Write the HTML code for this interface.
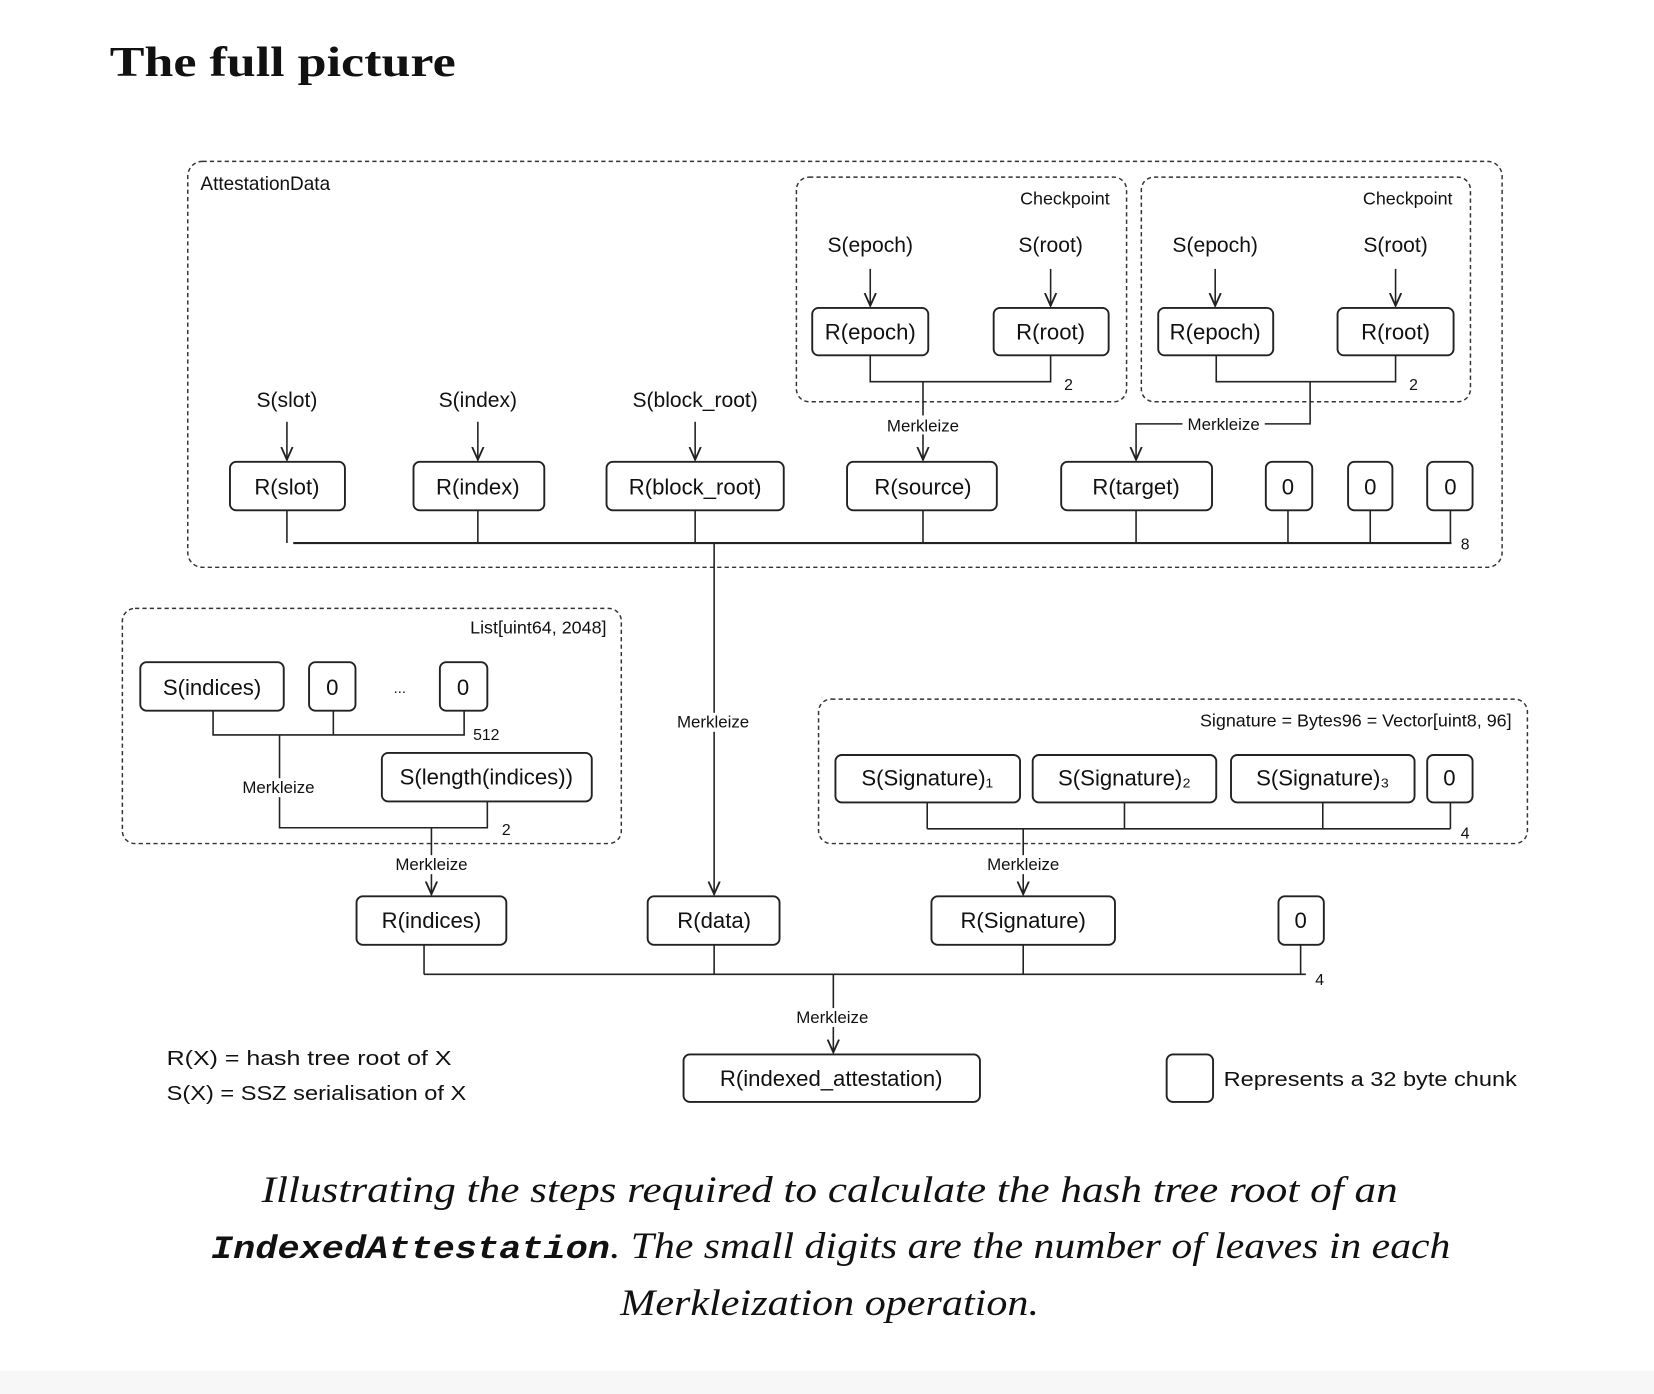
<!DOCTYPE html>
<html><head><meta charset="utf-8"><style>
html,body{margin:0;padding:0;background:#fff;}
svg{display:block}
.h{font-family:"Liberation Sans Narrow","Liberation Sans",sans-serif;fill:#111}
.b{fill:#fff;stroke:#222;stroke-width:1.8}
.l{stroke:#222;stroke-width:1.5;fill:none}
.d{stroke:#333;stroke-width:1.4;fill:none;stroke-dasharray:4 3}
</style></head><body>
<svg width="1654" height="1394" viewBox="0 0 1568 1322" preserveAspectRatio="none" xmlns="http://www.w3.org/2000/svg">
<defs><marker id="a" viewBox="0 0 10 10" refX="9" refY="5" markerWidth="9" markerHeight="9" orient="auto"><path d="M0,1 L9,5 L0,9" fill="none" stroke="#222" stroke-width="1.3"/></marker></defs>
<rect x="0" y="1300" width="1568" height="22" fill="#f7f7f7"/>
<text x="104" y="72" font-family="Liberation Serif,serif" font-weight="bold" font-size="40" fill="#111" textLength="328" lengthAdjust="spacingAndGlyphs">The full picture</text>

<!-- containers -->
<rect class="d" x="178" y="153" width="1246" height="385" rx="14"/>
<text class="h" x="190" y="180" font-size="18">AttestationData</text>
<rect class="d" x="755" y="168" width="313" height="213" rx="12"/>
<text class="h" x="1052" y="194" font-size="17" text-anchor="end">Checkpoint</text>
<rect class="d" x="1082" y="168" width="312" height="213" rx="12"/>
<text class="h" x="1377" y="194" font-size="17" text-anchor="end">Checkpoint</text>
<rect class="d" x="116" y="577" width="473" height="223" rx="12"/>
<text class="h" x="575" y="601" font-size="17" text-anchor="end">List[uint64, 2048]</text>
<rect class="d" x="776" y="663" width="672" height="137" rx="12"/>
<text class="h" x="1433" y="689" font-size="17" text-anchor="end">Signature = Bytes96 = Vector[uint8, 96]</text>

<g class="h" font-size="20" text-anchor="middle">
<text x="825" y="239">S(epoch)</text><text x="996" y="239">S(root)</text>
<text x="1152" y="239">S(epoch)</text><text x="1323" y="239">S(root)</text>
<text x="272" y="386">S(slot)</text><text x="453" y="386">S(index)</text><text x="659" y="386">S(block_root)</text>
</g>

<g class="l">
<line x1="825" y1="255" x2="825" y2="290" marker-end="url(#a)"/>
<line x1="996" y1="255" x2="996" y2="290" marker-end="url(#a)"/>
<line x1="1152" y1="255" x2="1152" y2="290" marker-end="url(#a)"/>
<line x1="1323" y1="255" x2="1323" y2="290" marker-end="url(#a)"/>
<line x1="272" y1="400" x2="272" y2="436" marker-end="url(#a)"/>
<line x1="453" y1="400" x2="453" y2="436" marker-end="url(#a)"/>
<line x1="659" y1="400" x2="659" y2="436" marker-end="url(#a)"/>
<polyline points="825,337 825,362 996,362 996,337"/>
<line x1="875" y1="362" x2="875" y2="436" marker-end="url(#a)"/>
<polyline points="1153,337 1153,362 1323,362 1323,337"/>
<polyline points="1242,362 1242,402 1077,402 1077,436" marker-end="url(#a)"/>
<line x1="278" y1="515" x2="1376" y2="515" stroke-width="2"/>
<line x1="272" y1="484" x2="272" y2="515"/><line x1="453" y1="484" x2="453" y2="515"/>
<line x1="659" y1="484" x2="659" y2="515"/><line x1="875" y1="484" x2="875" y2="515"/>
<line x1="1077" y1="484" x2="1077" y2="515"/><line x1="1221" y1="484" x2="1221" y2="515"/>
<line x1="1299" y1="484" x2="1299" y2="515"/><line x1="1375" y1="484" x2="1375" y2="515"/>
<line x1="677" y1="515" x2="677" y2="848" marker-end="url(#a)"/>
<polyline points="202,674 202,697 440,697 440,674"/><line x1="316" y1="674" x2="316" y2="697"/>
<polyline points="265,697 265,785 462,785 462,760"/>
<line x1="409" y1="785" x2="409" y2="848" marker-end="url(#a)"/>
<line x1="879" y1="761" x2="879" y2="786"/><line x1="1066" y1="761" x2="1066" y2="786"/>
<line x1="1254" y1="761" x2="1254" y2="786"/><line x1="1375" y1="761" x2="1375" y2="786"/>
<line x1="879" y1="786" x2="1375" y2="786"/>
<line x1="970" y1="786" x2="970" y2="848" marker-end="url(#a)"/>
<line x1="402" y1="924" x2="1238" y2="924"/>
<line x1="402" y1="896" x2="402" y2="924"/><line x1="677" y1="896" x2="677" y2="924"/>
<line x1="970" y1="896" x2="970" y2="924"/><line x1="1233" y1="896" x2="1233" y2="924"/>
<line x1="790" y1="924" x2="790" y2="998" marker-end="url(#a)"/>
</g>

<!-- boxes -->
<g>
<rect class="b" x="770" y="292" width="110" height="45" rx="6"/><rect class="b" x="942" y="292" width="109" height="45" rx="6"/>
<rect class="b" x="1098" y="292" width="109" height="45" rx="6"/><rect class="b" x="1268" y="292" width="110" height="45" rx="6"/>
<rect class="b" x="218" y="438" width="109" height="46" rx="6"/><rect class="b" x="392" y="438" width="124" height="46" rx="6"/>
<rect class="b" x="575" y="438" width="168" height="46" rx="6"/><rect class="b" x="803" y="438" width="142" height="46" rx="6"/>
<rect class="b" x="1006" y="438" width="143" height="46" rx="6"/><rect class="b" x="1200" y="438" width="44" height="46" rx="6"/>
<rect class="b" x="1278" y="438" width="42" height="46" rx="6"/><rect class="b" x="1353" y="438" width="43" height="46" rx="6"/>
<rect class="b" x="133" y="628" width="136" height="46" rx="6"/><rect class="b" x="293" y="628" width="44" height="46" rx="6"/>
<rect class="b" x="417" y="628" width="45" height="46" rx="6"/><rect class="b" x="362" y="714" width="199" height="46" rx="6"/>
<rect class="b" x="792" y="716" width="175" height="45" rx="6"/><rect class="b" x="979" y="716" width="174" height="45" rx="6"/>
<rect class="b" x="1167" y="716" width="174" height="45" rx="6"/><rect class="b" x="1353" y="716" width="43" height="45" rx="6"/>
<rect class="b" x="338" y="850" width="142" height="46" rx="6"/><rect class="b" x="614" y="850" width="125" height="46" rx="6"/>
<rect class="b" x="883" y="850" width="174" height="46" rx="6"/><rect class="b" x="1212" y="850" width="43" height="46" rx="6"/>
<rect class="b" x="648" y="1000" width="281" height="45" rx="6"/><rect class="b" x="1106" y="1000" width="44" height="45" rx="6"/>
</g>

<g class="h" font-size="21" text-anchor="middle">
<text x="825" y="322">R(epoch)</text><text x="996" y="322">R(root)</text>
<text x="1152" y="322">R(epoch)</text><text x="1323" y="322">R(root)</text>
<text x="272" y="469">R(slot)</text><text x="453" y="469">R(index)</text><text x="659" y="469">R(block_root)</text>
<text x="875" y="469">R(source)</text><text x="1077" y="469">R(target)</text>
<text x="1221" y="469">0</text><text x="1299" y="469">0</text><text x="1375" y="469">0</text>
<text x="201" y="659">S(indices)</text><text x="315" y="659">0</text><text x="439" y="659">0</text><text x="379" y="657" font-size="14">...</text>
<text x="461" y="744">S(length(indices))</text>
<text x="879" y="745">S(Signature)₁</text><text x="1066" y="745">S(Signature)₂</text><text x="1254" y="745">S(Signature)₃</text><text x="1374" y="745">0</text>
<text x="409" y="880">R(indices)</text><text x="677" y="880">R(data)</text><text x="970" y="880">R(Signature)</text><text x="1233" y="880">0</text>
<text x="788" y="1030">R(indexed_attestation)</text>
</g>

<g class="h" font-size="16" text-anchor="middle">
<rect x="836" y="394" width="78" height="18" fill="#fff"/><text x="875" y="409">Merkleize</text>
<rect x="1121" y="393" width="78" height="18" fill="#fff"/><text x="1160" y="408">Merkleize</text>
<rect x="637" y="676" width="78" height="18" fill="#fff"/><text x="676" y="690">Merkleize</text>
<rect x="225" y="738" width="78" height="18" fill="#fff"/><text x="264" y="752">Merkleize</text>
<rect x="370" y="811" width="78" height="18" fill="#fff"/><text x="409" y="825">Merkleize</text>
<rect x="931" y="811" width="78" height="18" fill="#fff"/><text x="970" y="825">Merkleize</text>
<rect x="750" y="956" width="78" height="18" fill="#fff"/><text x="789" y="970">Merkleize</text>
<text x="1013" y="370" font-size="15">2</text><text x="1340" y="370" font-size="15">2</text>
<text x="1389" y="521" font-size="15">8</text><text x="461" y="702" font-size="15">512</text>
<text x="480" y="792" font-size="15">2</text><text x="1389" y="795" font-size="15">4</text><text x="1251" y="934" font-size="15">4</text>
</g>

<g class="h" font-size="19">
<text x="158" y="1010" textLength="270" lengthAdjust="spacingAndGlyphs">R(X) = hash tree root of X</text>
<text x="158" y="1043" textLength="284" lengthAdjust="spacingAndGlyphs">S(X) = SSZ serialisation of X</text>
<text x="1160" y="1030" textLength="278" lengthAdjust="spacingAndGlyphs">Represents a 32 byte chunk</text>
</g>

<g font-family="Liberation Serif,serif" font-style="italic" font-size="35" fill="#111">
<text x="248" y="1140" textLength="1077" lengthAdjust="spacingAndGlyphs">Illustrating the steps required to calculate the hash tree root of an</text>
<text x="200" y="1193" textLength="1175" lengthAdjust="spacingAndGlyphs"><tspan font-family="Liberation Mono,monospace" font-weight="bold" font-size="31">IndexedAttestation</tspan>. The small digits are the number of leaves in each</text>
<text x="588" y="1247" textLength="397" lengthAdjust="spacingAndGlyphs">Merkleization operation.</text>
</g>
</svg>
</body></html>
